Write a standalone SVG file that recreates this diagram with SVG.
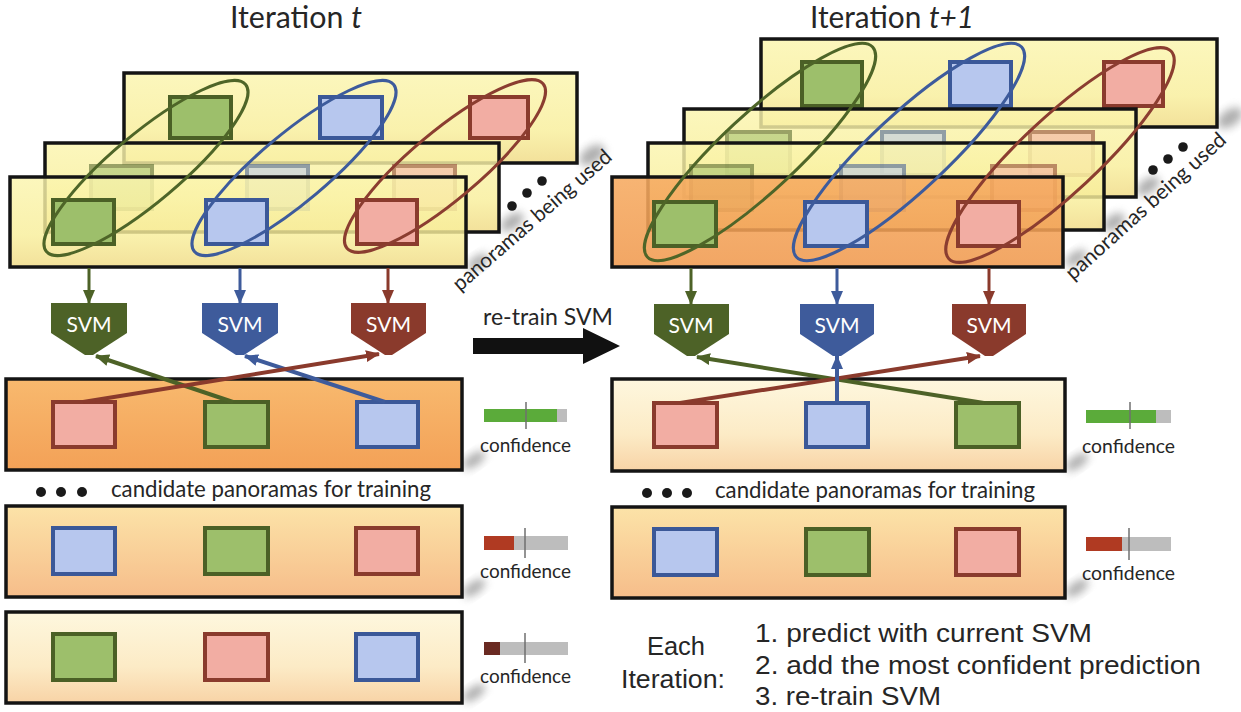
<svg xmlns="http://www.w3.org/2000/svg" width="1241" height="712" viewBox="0 0 1241 712">
<defs>
  <linearGradient id="gy" x1="0" y1="0" x2="0" y2="1">
    <stop offset="0" stop-color="#fbf5ae"/><stop offset="0.65" stop-color="#f8ee9a"/><stop offset="1" stop-color="#f0da84"/>
  </linearGradient>
  <linearGradient id="go" x1="0" y1="0" x2="0" y2="1">
    <stop offset="0" stop-color="#f6aa60"/><stop offset="1" stop-color="#f09a4f"/>
  </linearGradient>
  <linearGradient id="gc1" x1="0" y1="0" x2="0" y2="1">
    <stop offset="0" stop-color="#f8b96e"/><stop offset="1" stop-color="#f3a157"/>
  </linearGradient>
  <linearGradient id="gc2" x1="0" y1="0" x2="0" y2="1">
    <stop offset="0" stop-color="#fce3a8"/><stop offset="1" stop-color="#f6bd8a"/>
  </linearGradient>
  <linearGradient id="gc3" x1="0" y1="0" x2="0" y2="1">
    <stop offset="0" stop-color="#fef7de"/><stop offset="0.6" stop-color="#fcebc6"/><stop offset="1" stop-color="#f8d3a6"/>
  </linearGradient>
  <filter id="blur" x="-50%" y="-50%" width="200%" height="200%"><feGaussianBlur stdDeviation="4"/></filter>
  <marker id="mg" markerWidth="14" markerHeight="12" refX="13" refY="6" orient="auto" markerUnits="userSpaceOnUse"><path d="M0,0 L14,6 L0,12 Z" fill="#4d6227"/></marker>
  <marker id="mb" markerWidth="14" markerHeight="12" refX="13" refY="6" orient="auto" markerUnits="userSpaceOnUse"><path d="M0,0 L14,6 L0,12 Z" fill="#3e5b9b"/></marker>
  <marker id="mr" markerWidth="14" markerHeight="12" refX="13" refY="6" orient="auto" markerUnits="userSpaceOnUse"><path d="M0,0 L14,6 L0,12 Z" fill="#8a3a2c"/></marker>
</defs>
<style>
  .pan{stroke:#141414;stroke-width:3.5}
  .py{fill:url(#gy);fill-opacity:0.82}
  .po{fill:url(#go);fill-opacity:0.88}
  .sg{fill:#9dbf6b;stroke:#4b6026;stroke-width:4}
  .sb{fill:#b7c7ee;stroke:#3b5898;stroke-width:4}
  .sr{fill:#f2ada3;stroke:#8a3b2d;stroke-width:4}
  .fade{opacity:0.55}
  .eg{fill:none;stroke:#4e6528;stroke-width:3}
  .eb{fill:none;stroke:#3d5b9c;stroke-width:3}
  .er{fill:none;stroke:#8b3d30;stroke-width:3}
  .lg{stroke:#4d6227;stroke-width:4;fill:none}
  .lb{stroke:#3e5b9b;stroke-width:4;fill:none}
  .lr{stroke:#8a3a2c;stroke-width:4;fill:none}
  .dg{stroke:#4d6227;stroke-width:3;fill:none}
  .db{stroke:#3e5b9b;stroke-width:3;fill:none}
  .dr{stroke:#8a3a2c;stroke-width:3;fill:none}
  .shd{fill:#8c8c8c;opacity:0.7;filter:url(#blur)}
  text{font-family:Lato,"Open Sans","DejaVu Sans",sans-serif;fill:#262626}
  .svmt{fill:#ffffff;font-size:21px;text-anchor:middle}
  .conf{font-size:19px}
  .ar{font-family:"Liberation Sans",Arial,sans-serif;font-size:25.5px;fill:#262626}
  .bar{fill:#bdbdbd}
  .tick{stroke:#6f6f6f;stroke-width:1.5}
</style>

<!-- titles -->
<text x="230" y="28" font-size="30" textLength="132" lengthAdjust="spacingAndGlyphs">Iteration <tspan font-style="italic">t</tspan></text>
<text x="810" y="28" font-size="30" textLength="164" lengthAdjust="spacingAndGlyphs">Iteration <tspan font-style="italic">t+1</tspan></text>

<!-- shadows -->
<g id="shadows">
  <ellipse class="shd" cx="592" cy="155" rx="14" ry="8" transform="rotate(-35 592 155)"/>
  <ellipse class="shd" cx="512" cy="222" rx="13" ry="7" transform="rotate(-35 512 222)"/>
  <ellipse class="shd" cx="478" cy="262" rx="12" ry="6" transform="rotate(-35 478 262)"/>
  <ellipse class="shd" cx="1230" cy="118" rx="14" ry="8" transform="rotate(-35 1230 118)"/>
  <ellipse class="shd" cx="1148" cy="186" rx="13" ry="7" transform="rotate(-35 1148 186)"/>
  <ellipse class="shd" cx="1114" cy="222" rx="12" ry="7" transform="rotate(-35 1114 222)"/>
  <ellipse class="shd" cx="1076" cy="258" rx="12" ry="6" transform="rotate(-35 1076 258)"/>
  <ellipse class="shd" cx="474" cy="460" rx="13" ry="6" transform="rotate(-35 474 460)"/>
  <ellipse class="shd" cx="474" cy="588" rx="13" ry="6" transform="rotate(-35 474 588)"/>
  <ellipse class="shd" cx="474" cy="693" rx="13" ry="6" transform="rotate(-35 474 693)"/>
  <ellipse class="shd" cx="1077" cy="462" rx="13" ry="6" transform="rotate(-35 1077 462)"/>
  <ellipse class="shd" cx="1077" cy="588" rx="13" ry="6" transform="rotate(-35 1077 588)"/>
</g>

<!-- LEFT used panoramas -->
<g id="left-used-panoramas">
  <rect class="pan py" x="124" y="73" width="453" height="90"/>
  <rect class="sg" x="170" y="97" width="61" height="41"/>
  <rect class="sb" x="320" y="97" width="62" height="41"/>
  <rect class="sr" x="470" y="97" width="58" height="41"/>
  <rect class="pan py" x="45" y="143" width="454" height="89"/>
  <g class="fade">
    <rect class="sg" x="91" y="166" width="61" height="43"/>
    <rect class="sb" x="247" y="166" width="61" height="43"/>
    <rect class="sr" x="394" y="166" width="61" height="43"/>
  </g>
  <rect class="pan py" x="10" y="177" width="456" height="90"/>
  <rect class="sg" x="53" y="200" width="61" height="44"/>
  <rect class="sb" x="206" y="200" width="61" height="44"/>
  <rect class="sr" x="357" y="200" width="60" height="44"/>
  <ellipse class="eg" cx="146" cy="168" rx="130" ry="34" transform="rotate(-40 146 168)"/>
  <ellipse class="eb" cx="294" cy="168" rx="130" ry="34" transform="rotate(-40 294 168)"/>
  <ellipse class="er" cx="445" cy="166" rx="128" ry="34" transform="rotate(-40 445 166)"/>
  <circle cx="512" cy="206" r="4.8" fill="#1a1a1a"/>
  <circle cx="527" cy="193" r="4.8" fill="#1a1a1a"/>
  <circle cx="542" cy="181" r="4.8" fill="#1a1a1a"/>
  <text font-size="21" transform="translate(460,292) rotate(-41)" textLength="203" lengthAdjust="spacingAndGlyphs">panoramas being used</text>
</g>

<!-- RIGHT used panoramas -->
<g id="right-used-panoramas">
  <rect class="pan py" x="761" y="39" width="456" height="88"/>
  <rect class="sg" x="802" y="62" width="60" height="44"/>
  <rect class="sb" x="950" y="62" width="61" height="44"/>
  <rect class="sr" x="1104" y="62" width="59" height="44"/>
  <rect class="pan py" x="684" y="109" width="452" height="88"/>
  <g class="fade">
    <rect class="sg" x="727" y="132" width="63" height="43"/>
    <rect class="sb" x="882" y="132" width="62" height="43"/>
    <rect class="sr" x="1030" y="132" width="63" height="43"/>
  </g>
  <rect class="pan py" x="648" y="143" width="456" height="87"/>
  <g class="fade">
    <rect class="sg" x="691" y="166" width="61" height="44"/>
    <rect class="sb" x="841" y="166" width="63" height="44"/>
    <rect class="sr" x="992" y="166" width="63" height="44"/>
  </g>
  <rect class="pan po" x="612" y="177" width="451" height="90"/>
  <rect class="sg" x="654" y="202" width="62" height="44"/>
  <rect class="sb" x="805" y="202" width="62" height="44"/>
  <rect class="sr" x="958" y="202" width="61" height="44"/>
  <ellipse class="eg" cx="760" cy="152" rx="154" ry="38" transform="rotate(-43 760 152)"/>
  <ellipse class="eb" cx="909" cy="152" rx="154" ry="38" transform="rotate(-43 909 152)"/>
  <ellipse class="er" cx="1060" cy="155" rx="152" ry="38" transform="rotate(-43 1060 155)"/>
  <circle cx="1153" cy="170" r="4.8" fill="#1a1a1a"/>
  <circle cx="1168" cy="159" r="4.8" fill="#1a1a1a"/>
  <circle cx="1183" cy="147" r="4.8" fill="#1a1a1a"/>
  <text font-size="21" transform="translate(1073,281) rotate(-42)" textLength="208" lengthAdjust="spacingAndGlyphs">panoramas being used</text>
</g>

<!-- SVM nodes -->
<g id="svm-left-green"><path d="M51,303 H127 V333 L93,355 H85 L51,333 Z" fill="#4d6227"/><text class="svmt" x="89" y="332" textLength="45" lengthAdjust="spacingAndGlyphs">SVM</text></g>
<g id="svm-left-blue"><path d="M202,303 H278 V333 L244,355 H236 L202,333 Z" fill="#3e5b9b"/><text class="svmt" x="240" y="332" textLength="45" lengthAdjust="spacingAndGlyphs">SVM</text></g>
<g id="svm-left-red"><path d="M351,303 H426 V333 L392,355 H385 L351,333 Z" fill="#8a3a2c"/><text class="svmt" x="388.5" y="332" textLength="45" lengthAdjust="spacingAndGlyphs">SVM</text></g>
<g id="svm-right-green"><path d="M654,304 H729 V334 L695,356 H687 L654,334 Z" fill="#4d6227"/><text class="svmt" x="691" y="333" textLength="45" lengthAdjust="spacingAndGlyphs">SVM</text></g>
<g id="svm-right-blue"><path d="M800,304 H874 V334 L841,356 H833 L800,334 Z" fill="#3e5b9b"/><text class="svmt" x="837" y="333" textLength="45" lengthAdjust="spacingAndGlyphs">SVM</text></g>
<g id="svm-right-red"><path d="M952,304 H1026 V334 L993,356 H985 L952,334 Z" fill="#8a3a2c"/><text class="svmt" x="989" y="333" textLength="45" lengthAdjust="spacingAndGlyphs">SVM</text></g>

<!-- re-train arrow -->
<g id="retrain">
  <text x="483" y="325" font-size="23" textLength="130" lengthAdjust="spacingAndGlyphs">re-train SVM</text>
  <path d="M473,338 H583 V328 L620,346 L583,364 V354 H473 Z" fill="#111"/>
</g>

<!-- candidate panels LEFT -->
<g id="left-cand-1">
  <rect class="pan" x="6" y="379" width="456" height="91" fill="url(#gc1)"/>
  <rect class="sr" x="53" y="402" width="62" height="45"/>
  <rect class="sg" x="205" y="402" width="63" height="45"/>
  <rect class="sb" x="357" y="402" width="61" height="45"/>
</g>
<g id="left-cand-2">
  <rect class="pan" x="6" y="506" width="456" height="91" fill="url(#gc2)"/>
  <rect class="sb" x="53" y="528" width="62" height="46"/>
  <rect class="sg" x="205" y="528" width="63" height="46"/>
  <rect class="sr" x="356" y="528" width="62" height="46"/>
</g>
<g id="left-cand-3">
  <rect class="pan" x="6" y="612" width="456" height="91" fill="url(#gc3)"/>
  <rect class="sg" x="53" y="634" width="62" height="46"/>
  <rect class="sr" x="205" y="634" width="63" height="46"/>
  <rect class="sb" x="356" y="634" width="62" height="46"/>
</g>
<!-- candidate panels RIGHT -->
<g id="right-cand-1">
  <rect class="pan" x="612" y="379" width="453" height="92" fill="url(#gc3)"/>
  <rect class="sr" x="654" y="403" width="63" height="44"/>
  <rect class="sb" x="806" y="403" width="62" height="44"/>
  <rect class="sg" x="956" y="403" width="63" height="44"/>
</g>
<g id="right-cand-2">
  <rect class="pan" x="612" y="507" width="453" height="91" fill="url(#gc2)"/>
  <rect class="sb" x="654" y="529" width="63" height="46"/>
  <rect class="sg" x="806" y="529" width="63" height="46"/>
  <rect class="sr" x="956" y="529" width="63" height="46"/>
</g>

<!-- connectors -->
<g id="connectors">
  <line class="dg" x1="89" y1="268" x2="89" y2="303" marker-end="url(#mg)"/>
  <line class="db" x1="240" y1="268" x2="240" y2="303" marker-end="url(#mb)"/>
  <line class="dr" x1="388" y1="268" x2="388" y2="303" marker-end="url(#mr)"/>
  <line class="dg" x1="691" y1="268" x2="691" y2="304" marker-end="url(#mg)"/>
  <line class="db" x1="837" y1="268" x2="837" y2="304" marker-end="url(#mb)"/>
  <line class="dr" x1="989" y1="268" x2="989" y2="304" marker-end="url(#mr)"/>
  <line class="lg" x1="233" y1="402" x2="96" y2="356" marker-end="url(#mg)"/>
  <line class="lb" x1="385" y1="402" x2="245" y2="356" marker-end="url(#mb)"/>
  <line class="lr" x1="83" y1="402" x2="379" y2="354" marker-end="url(#mr)"/>
  <line class="lg" x1="984" y1="403" x2="697" y2="357" marker-end="url(#mg)"/>
  <line class="lr" x1="680" y1="403" x2="980" y2="356" marker-end="url(#mr)"/>
  <line class="lb" x1="837" y1="403" x2="837" y2="356" marker-end="url(#mb)"/>
</g>

<!-- confidence bars -->
<g id="conf-left-1">
  <rect class="bar" x="484" y="409" width="83" height="13"/><rect x="484" y="409" width="73" height="13" fill="#5bab3a"/>
  <line class="tick" x1="526" y1="402" x2="526" y2="429"/>
  <text class="conf" x="480" y="452" textLength="91" lengthAdjust="spacingAndGlyphs">confidence</text>
</g>
<g id="conf-left-2">
  <rect class="bar" x="484" y="536" width="84" height="14"/><rect x="484" y="536" width="30" height="14" fill="#b03a22"/>
  <line class="tick" x1="525" y1="528" x2="525" y2="558"/>
  <text class="conf" x="480" y="578" textLength="91" lengthAdjust="spacingAndGlyphs">confidence</text>
</g>
<g id="conf-left-3">
  <rect class="bar" x="484" y="642" width="84" height="13"/><rect x="484" y="642" width="16" height="13" fill="#6a2a22"/>
  <line class="tick" x1="525" y1="633" x2="525" y2="663"/>
  <text class="conf" x="480" y="683" textLength="91" lengthAdjust="spacingAndGlyphs">confidence</text>
</g>
<g id="conf-right-1">
  <rect class="bar" x="1086" y="410" width="85" height="13"/><rect x="1086" y="410" width="70" height="13" fill="#5bab3a"/>
  <line class="tick" x1="1130" y1="402" x2="1130" y2="429"/>
  <text class="conf" x="1082" y="453" textLength="93" lengthAdjust="spacingAndGlyphs">confidence</text>
</g>
<g id="conf-right-2">
  <rect class="bar" x="1086" y="537" width="85" height="14"/><rect x="1086" y="537" width="36" height="14" fill="#b03a22"/>
  <line class="tick" x1="1129" y1="528" x2="1129" y2="560"/>
  <text class="conf" x="1082" y="580" textLength="93" lengthAdjust="spacingAndGlyphs">confidence</text>
</g>

<!-- candidate labels -->
<g id="cand-label-left">
  <circle cx="41" cy="492" r="5" fill="#1a1a1a"/><circle cx="61" cy="492" r="5" fill="#1a1a1a"/><circle cx="82" cy="492" r="5" fill="#1a1a1a"/>
  <text x="111" y="497" font-size="22.5" textLength="320" lengthAdjust="spacingAndGlyphs">candidate panoramas for training</text>
</g>
<g id="cand-label-right">
  <circle cx="647" cy="493" r="5" fill="#1a1a1a"/><circle cx="667" cy="493" r="5" fill="#1a1a1a"/><circle cx="687" cy="493" r="5" fill="#1a1a1a"/>
  <text x="715" y="498" font-size="22.5" textLength="320" lengthAdjust="spacingAndGlyphs">candidate panoramas for training</text>
</g>

<!-- legend -->
<g id="legend">
  <text class="ar" x="676" y="655" font-size="27" text-anchor="middle" textLength="58" lengthAdjust="spacingAndGlyphs">Each</text>
  <text class="ar" x="673" y="688" font-size="27" text-anchor="middle" textLength="104" lengthAdjust="spacingAndGlyphs">Iteration:</text>
  <text class="ar" x="755" y="642" textLength="337" lengthAdjust="spacingAndGlyphs">1. predict with current SVM</text>
  <text class="ar" x="755" y="674" textLength="446" lengthAdjust="spacingAndGlyphs">2. add the most confident prediction</text>
  <text class="ar" x="755" y="705" textLength="186" lengthAdjust="spacingAndGlyphs">3. re-train SVM</text>
</g>
</svg>
